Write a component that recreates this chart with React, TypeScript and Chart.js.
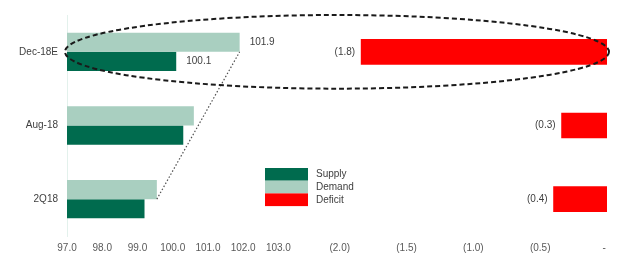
import React, { useEffect, useRef } from 'react';
import { Chart, registerables } from 'chart.js';

Chart.register(...registerables);

// ---- data ----
const categories = ['Dec-18E', 'Aug-18', '2Q18'];
const supply = [100.1, 100.3, 99.2];
const demand = [101.9, 100.6, 99.55];
const deficit = [-1.84, -0.34, -0.4];
const leftTicks = [97, 98, 99, 100, 101, 102, 103];
const rightTicks = [-2, -1.5, -1, -0.5, 0];
const labeledRows = [0];
const highlightRow = 0;
const trendFromRow = 2;
const trendToRow = 0;

// ---- styles ----
const SUPPLY_COLOR = '#006B4E';
const DEMAND_COLOR = '#A9CFC0';
const DEFICIT_COLOR = '#FF0000';
const FONT = '"Liberation Sans", Arial, sans-serif';
const TEXT = '#404040';
const AXIS_TEXT = '#595959';

const LEFT_MIN = 97;
const LEFT_MAX = 103.3;
const RIGHT_MIN = -2.38;
const RIGHT_MAX = 0;

const fmtDeficit = (v: number) => (v === 0 ? '-  ' : `(${Math.abs(v).toFixed(1)})`);

const overlayPlugin = {
  id: 'overlay',
  afterDatasetsDraw(chart: any) {
    const ctx = chart.ctx as CanvasRenderingContext2D;
    const xL = chart.scales.xL;
    const xR = chart.scales.xR;
    const y = chart.scales.y;
    const demMeta = chart.getDatasetMeta(0);
    const supMeta = chart.getDatasetMeta(1);
    const defMeta = chart.getDatasetMeta(2);
    ctx.save();
    ctx.font = `10px ${FONT}`;
    ctx.fillStyle = TEXT;
    ctx.textBaseline = 'middle';
    ctx.textAlign = 'left';
    labeledRows.forEach((i) => {
      const d = demMeta.data[i].getProps(['x', 'y'], true);
      ctx.fillText(demand[i].toFixed(1), d.x + 10, d.y);
      const s = supMeta.data[i].getProps(['x', 'y'], true);
      ctx.fillText(supply[i].toFixed(1), s.x + 10, s.y);
    });
    ctx.textAlign = 'right';
    defMeta.data.forEach((bar: any, i: number) => {
      const p = bar.getProps(['x', 'y'], true);
      ctx.fillText(fmtDeficit(deficit[i]), p.x - 6, p.y);
    });

    // dotted trend line between demand bar ends
    const a = demMeta.data[trendFromRow].getProps(['x', 'y', 'height'], true);
    const b = demMeta.data[trendToRow].getProps(['x', 'y', 'height'], true);
    ctx.beginPath();
    ctx.setLineDash([1.5, 2]);
    ctx.lineWidth = 1.2;
    ctx.strokeStyle = '#505050';
    ctx.moveTo(a.x, a.y + a.height / 2);
    ctx.lineTo(b.x, b.y + b.height / 2);
    ctx.stroke();

    // dashed ellipse around highlighted row
    const left = xL.getPixelForValue(LEFT_MIN) - 2;
    const right = xR.getPixelForValue(RIGHT_MAX) + 2;
    const cy = y.getPixelForValue(highlightRow);
    const ry = Math.abs(y.getPixelForValue(1) - y.getPixelForValue(0)) / 2;
    ctx.beginPath();
    ctx.setLineDash([5, 3]);
    ctx.lineWidth = 2;
    ctx.strokeStyle = '#1a1a1a';
    ctx.ellipse((left + right) / 2, cy, (right - left) / 2, ry, 0, 0, Math.PI * 2);
    ctx.stroke();

    // legend
    const order = [1, 0, 2];
    const lx = 265;
    const ly = 168;
    const bw = 43;
    const bh = 12.7;
    ctx.setLineDash([]);
    ctx.textAlign = 'left';
    order.forEach((di, k) => {
      const ds = chart.data.datasets[di];
      ctx.fillStyle = ds.backgroundColor;
      ctx.fillRect(lx, ly + k * bh, bw, bh);
      ctx.fillStyle = TEXT;
      ctx.fillText(ds.label, lx + bw + 8, ly + k * bh + bh / 2);
    });
    ctx.restore();
  },
};

const tickFont = { family: FONT, size: 10 };

export default function App() {
  const ref = useRef<HTMLCanvasElement | null>(null);
  useEffect(() => {
    document.body.style.margin = '0';
    if (!ref.current) return;
    const chart = new Chart(ref.current, {
      type: 'bar',
      data: {
        labels: categories,
        datasets: [
          {
            label: 'Demand',
            data: demand,
            backgroundColor: DEMAND_COLOR,
            xAxisID: 'xL',
            yAxisID: 'y',
            categoryPercentage: 0.52,
            barPercentage: 1,
          },
          {
            label: 'Supply',
            data: supply,
            backgroundColor: SUPPLY_COLOR,
            xAxisID: 'xL',
            yAxisID: 'y',
            categoryPercentage: 0.52,
            barPercentage: 1,
          },
          {
            label: 'Deficit',
            data: deficit,
            backgroundColor: DEFICIT_COLOR,
            xAxisID: 'xR',
            yAxisID: 'y',
            grouped: false,
            barThickness: 25,
          },
        ],
      },
      options: {
        indexAxis: 'y',
        responsive: false,
        animation: false,
        layout: { padding: { left: 0, right: 17, top: 15, bottom: 0 } },
        plugins: { legend: { display: false }, tooltip: { enabled: false } },
        scales: {
          xL: {
            type: 'linear',
            position: 'bottom',
            stack: 'x',
            stackWeight: (LEFT_MAX - LEFT_MIN) * 35.2,
            min: LEFT_MIN,
            max: LEFT_MAX,
            grid: { display: false, drawTicks: false },
            border: { display: false },
            afterBuildTicks: (s: any) => {
              s.ticks = leftTicks.map((v) => ({ value: v }));
            },
            afterFit: (s: any) => {
              s.height = 17;
            },
            ticks: {
              padding: 6,
              color: AXIS_TEXT,
              font: tickFont,
              maxRotation: 0,
              minRotation: 0,
              autoSkip: false,
              callback: (v: any) => Number(v).toFixed(1),
            },
          },
          xR: {
            type: 'linear',
            position: 'bottom',
            stack: 'x',
            stackWeight: (RIGHT_MAX - RIGHT_MIN) * 133.5,
            min: RIGHT_MIN,
            max: RIGHT_MAX,
            grid: { display: false, drawTicks: false },
            border: { display: false },
            afterBuildTicks: (s: any) => {
              s.ticks = rightTicks.map((v) => ({ value: v }));
            },
            afterFit: (s: any) => {
              s.height = 17;
            },
            ticks: {
              padding: 6,
              color: AXIS_TEXT,
              font: tickFont,
              maxRotation: 0,
              minRotation: 0,
              autoSkip: false,
              callback: (v: any) => fmtDeficit(Number(v)),
            },
          },
          y: {
            type: 'category',
            position: 'left',
            grid: { display: false, drawTicks: false },
            border: { display: true, color: '#E3F1EC', width: 1 },
            afterFit: (s: any) => {
              s.width = 67;
            },
            ticks: {
              padding: 9,
              color: TEXT,
              font: tickFont,
            },
          },
        },
      },
      plugins: [overlayPlugin],
    } as any);
    return () => chart.destroy();
  }, []);
  return (
    <div style={{ width: 624, height: 253, background: '#fff' }}>
      <canvas ref={ref} width={624} height={253} style={{ display: 'block' }} />
    </div>
  );
}
